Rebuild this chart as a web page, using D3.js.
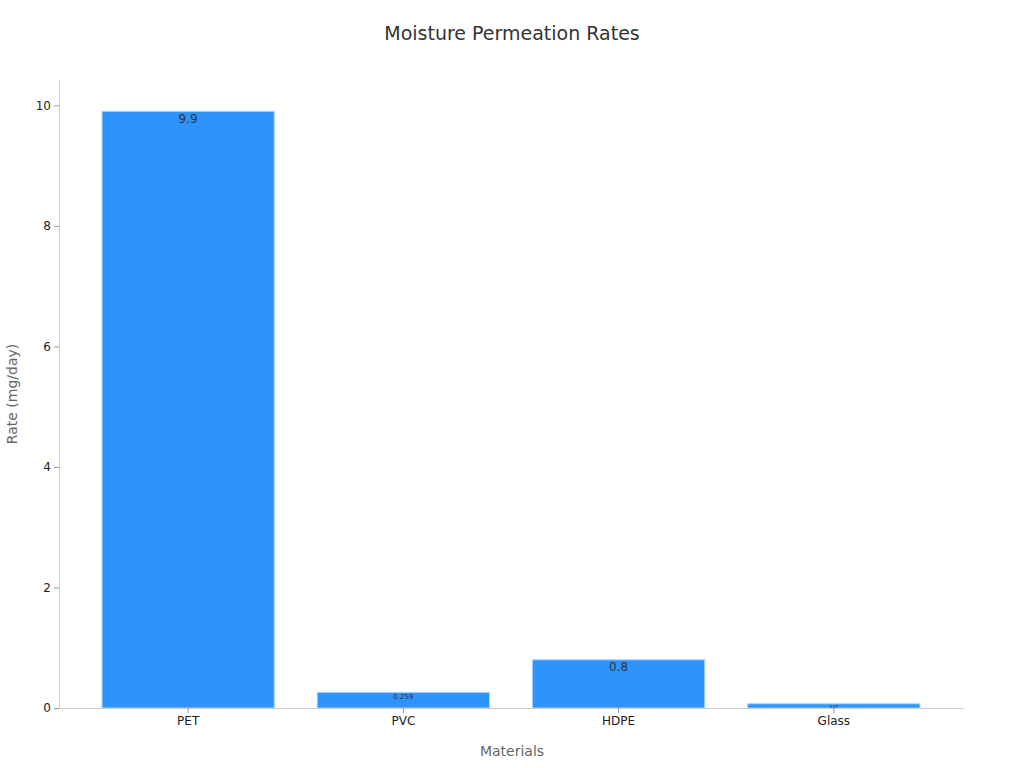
<!DOCTYPE html>
<html><head><meta charset="utf-8">
<script src="https://cdn.jsdelivr.net/npm/d3@7"></script>
<style>body{margin:0;background:#fff;font-family:"DejaVu Sans",sans-serif}</style>
</head><body><svg id="c" width="1024" height="768"></svg>
<script>
const categories = ["PET","PVC","HDPE","Glass"];
const values = [9.9,0.259,0.8,0.07];
const labelSizes = [12,7,12,4];
const yTicks = [0,2,4,6,8,10];

const svg = d3.select("#c");
const m = {l:59, r:963, t:80, b:708};
const x = d3.scaleBand().domain(categories).range([m.l,m.r]).padding(0.2);
const y = d3.scaleLinear().domain([0,10.42]).range([m.b,m.t]);

svg.append("text").attr("x",512).attr("y",40).attr("text-anchor","middle")
  .attr("font-size",19).attr("fill","#333").text("Moisture Permeation Rates");

svg.selectAll("rect.bar").data(values).join("rect").attr("class","bar")
  .attr("x",(d,i)=>x(categories[i])).attr("width",x.bandwidth())
  .attr("y",d=>y(d)).attr("height",d=>y(0)-y(d))
  .attr("fill","#2e93fa").attr("stroke","#a8d0fb").attr("stroke-width",1);

svg.selectAll("text.lbl").data(values).join("text").attr("class","lbl")
  .attr("x",(d,i)=>x(categories[i])+x.bandwidth()/2)
  .attr("y",(d,i)=>y(d)+labelSizes[i]*0.95)
  .attr("text-anchor","middle").attr("font-size",(d,i)=>labelSizes[i])
  .attr("fill","#333").text(d=>d);

const ya = svg.append("g").attr("transform",`translate(${m.l},0)`)
  .call(d3.axisLeft(y).tickValues(yTicks).tickSize(5).tickSizeOuter(0));
const xa = svg.append("g").attr("transform",`translate(0,${m.b})`)
  .call(d3.axisBottom(x).tickSize(5).tickSizeOuter(0));
[ya,xa].forEach(a=>{
  a.selectAll("path,line").attr("stroke","#ccc");
  a.selectAll("text").attr("font-size",12).attr("fill","#222").attr("font-family","DejaVu Sans");
});
xa.selectAll("line").attr("stroke","#999");
ya.selectAll("line").attr("stroke","#999");

svg.append("text").attr("x",512).attr("y",756).attr("text-anchor","middle")
  .attr("font-size",14).attr("fill","#666").text("Materials");
svg.append("text").attr("transform","translate(17,394) rotate(-90)").attr("text-anchor","middle")
  .attr("font-size",14).attr("fill","#666").text("Rate (mg/day)");
</script></body></html>
